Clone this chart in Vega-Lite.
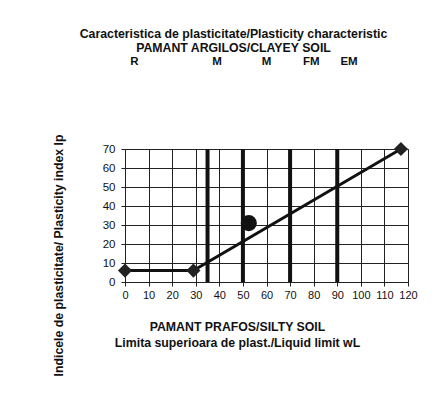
{
  "$schema": "https://vega.github.io/schema/vega-lite/v6.json",
  "width": 283,
  "height": 133,
  "autosize": {"type": "none"},
  "padding": {"left": 125, "top": 149, "right": 28, "bottom": 124},
  "background": "white",
  "title": {
    "text": ["Caracteristica de plasticitate/Plasticity characteristic", "PAMANT ARGILOS/CLAYEY SOIL"],
    "font": "Liberation Sans",
    "fontSize": 12.3,
    "fontWeight": "bold",
    "color": "#111",
    "lineHeight": 14,
    "anchor": "middle",
    "dx": -33,
    "offset": 1
  },
  "datasets": {
    "curve": [
      {"wL": 0, "Ip": 6},
      {"wL": 29, "Ip": 6},
      {"wL": 117, "Ip": 70}
    ],
    "sample": [{"wL": 52.5, "Ip": 31}],
    "bounds": [{"wL": 35}, {"wL": 50}, {"wL": 70}, {"wL": 90}],
    "classes": [
      {"wL": 4, "Ip": 116, "label": "R"},
      {"wL": 39, "Ip": 116, "label": "M"},
      {"wL": 60, "Ip": 116, "label": "M"},
      {"wL": 79, "Ip": 116, "label": "FM"},
      {"wL": 95, "Ip": 116, "label": "EM"}
    ]
  },
  "config": {
    "view": {"stroke": "#222", "strokeWidth": 1},
    "axis": {
      "labelFont": "Liberation Sans",
      "labelFontSize": 11.5,
      "labelColor": "#111",
      "labelOverlap": false,
      "labelFlush": false,
      "titleFont": "Liberation Sans",
      "titleFontWeight": "bold",
      "titleColor": "#111",
      "grid": true,
      "gridColor": "#222",
      "gridOpacity": 1,
      "gridWidth": 1,
      "domainColor": "#222",
      "tickColor": "#222",
      "tickSize": 4
    }
  },
  "encoding": {
    "x": {
      "field": "wL",
      "type": "quantitative",
      "scale": {"domain": [0, 120], "nice": false},
      "axis": {
        "values": [0, 10, 20, 30, 40, 50, 60, 70, 80, 90, 100, 110, 120],
        "tickCount": 20,
        "labelFontSize": 11,
        "labelFlush": false,
        "labelPadding": 3,
        "title": ["PAMANT PRAFOS/SILTY SOIL", "Limita superioara de plast./Liquid limit  wL"],
        "titleFontSize": 12.3,
        "titleX": 112,
        "titleY": 38,
        "titleBaseline": "top",
        "titleLineHeight": 16
      }
    }
  },
  "layer": [
    {
      "data": {"name": "bounds"},
      "mark": {"type": "rule", "strokeWidth": 4, "color": "#111"},
      "encoding": {}
    },
    {
      "data": {"name": "curve"},
      "mark": {"type": "line", "strokeWidth": 3, "color": "#111"},
      "encoding": {
        "y": {
          "field": "Ip",
          "type": "quantitative",
          "scale": {"domain": [0, 70], "nice": false},
          "axis": {
            "values": [0, 10, 20, 30, 40, 50, 60, 70],
            "tickCount": 20,
            "labelFlush": false,
            "labelPadding": 6,
            "title": "Indicele de plasticitate/ Plasticity index  Ip",
            "titleFontSize": 12.3,
            "titleX": -67,
            "titleY": 106,
            "titleAngle": -90,
            "titleBaseline": "middle",
            "titleAlign": "center"
          }
        }
      }
    },
    {
      "data": {"name": "curve"},
      "mark": {"type": "point", "shape": "diamond", "filled": true, "size": 200, "color": "#222", "opacity": 1},
      "encoding": {
        "y": {"field": "Ip", "type": "quantitative"}
      }
    },
    {
      "data": {"name": "sample"},
      "mark": {"type": "point", "shape": "circle", "filled": true, "size": 260, "color": "#111", "opacity": 1},
      "encoding": {
        "y": {"field": "Ip", "type": "quantitative"}
      }
    },
    {
      "data": {"name": "classes"},
      "mark": {"type": "text", "font": "Liberation Sans", "fontSize": 11.5, "fontWeight": "bold", "color": "#111", "clip": false},
      "encoding": {
        "y": {"field": "Ip", "type": "quantitative"},
        "text": {"field": "label"}
      }
    }
  ]
}
